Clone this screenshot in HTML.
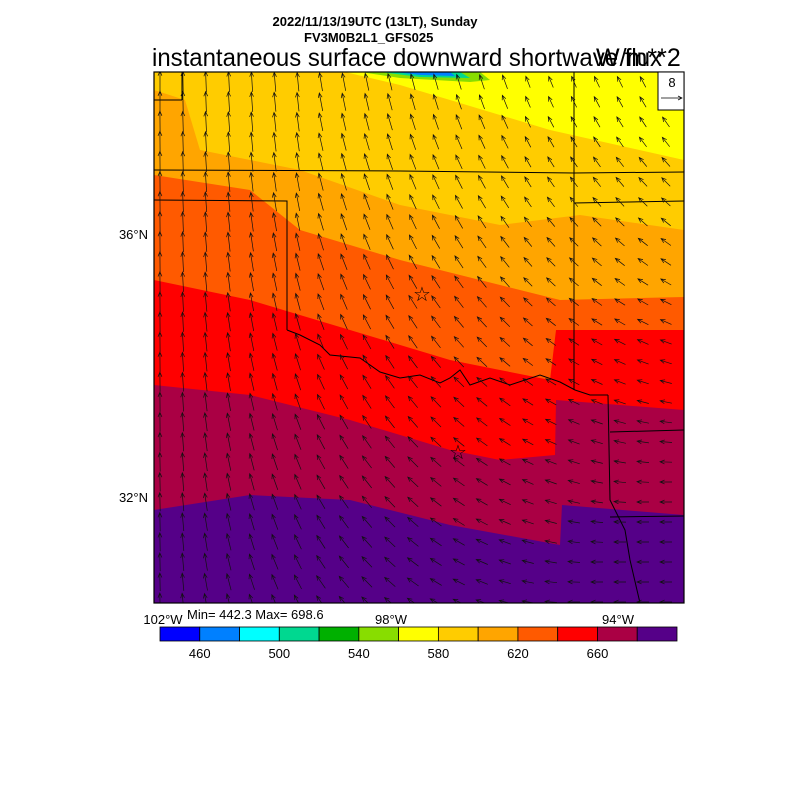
<!DOCTYPE html>
<html><head><meta charset="utf-8"><style>
body{margin:0;background:#fff;width:800px;height:800px;overflow:hidden}
svg{position:absolute;left:0;top:0}
text{font-family:"Liberation Sans",sans-serif}
</style></head><body>
<svg id="s" width="800" height="800" xmlns="http://www.w3.org/2000/svg">
<text x="375" y="26" font-size="13" font-weight="bold" text-anchor="middle">2022/11/13/19UTC (13LT), Sunday</text>
<text x="304" y="42" font-size="13" font-weight="bold">FV3M0B2L1_GFS025</text>
<text x="152" y="66" font-size="25" textLength="510" lengthAdjust="spacingAndGlyphs">instantaneous surface downward shortwave flux</text>
<text x="596" y="66" font-size="25">W/m**2</text>
<defs><clipPath id="c"><rect x="154" y="72" width="530" height="531"/></clipPath></defs>
<g clip-path="url(#c)">
<rect x="154" y="72" width="530" height="531" fill="#550088"/>
<polygon fill="#aa0044" points="154,72 684,72 684,515 562,505 560,545 450,525 350,500 250,495 154,510"/>
<polygon fill="#ff0000" points="154,72 684,72 684,410 556,400 555,455 500,460 450,450 350,420 250,395 154,385"/>
<polygon fill="#ff5a00" points="154,72 684,72 684,330 556,330 550,380 500,370 450,360 350,330 250,300 154,280"/>
<polygon fill="#ffa500" points="154,72 684,72 684,297 560,300 500,285 400,260 300,230 250,190 154,175"/>
<polygon fill="#ffcc00" points="185,72 684,72 684,230 580,215 500,225 400,205 300,170 200,150 185,100 154,90 154,72"/>
<polygon fill="#ffff00" points="345,72 684,72 684,160 550,130 450,100 400,85"/>
<polygon fill="#88dd00" points="360,72 480,72 490,80 470,82 400,78"/>
<polygon fill="#00d890" points="380,72 460,72 470,78 420,77"/>
<polygon fill="#0080ff" points="395,72 450,72 455,76 420,75"/>
<g fill="none" stroke="#000" stroke-width="1">
<line x1="182" y1="72" x2="182" y2="100"/>
<line x1="154" y1="100" x2="182" y2="100"/>
<polyline points="154,170 400,171 574,173 684,172"/>
<polyline points="154,200 287,201 287,330"/>
<line x1="574" y1="72" x2="574" y2="390"/>
<line x1="574" y1="203" x2="684" y2="201"/>
<polyline points="287,330 300,335 320,345 330,355 360,358 380,372 400,378 420,375 440,383 450,378 460,370 470,385 490,378 510,385 540,375 560,382 575,390 590,395 608,395"/>
<polyline points="608,395 610,500 625,530 630,560 640,603"/>
<line x1="610" y1="432" x2="684" y2="430"/>
<line x1="610" y1="517" x2="684" y2="516"/>
</g>
<g id="arr" stroke="#111" stroke-width="0.7" fill="none"></g>
</g>
<rect x="154" y="72" width="530" height="531" fill="none" stroke="#000" stroke-width="1.2"/>
<text x="422" y="301" font-size="20" text-anchor="middle">☆</text>
<text x="458" y="459" font-size="20" text-anchor="middle">☆</text>
<rect x="658" y="72" width="26" height="38" fill="#fff" stroke="#000"/>
<text x="672" y="87" font-size="13" text-anchor="middle">8</text>
<line x1="661" y1="98" x2="682" y2="98" stroke="#000" stroke-width="0.7"/>
<polyline points="678,96 682,98 678,100" fill="none" stroke="#000" stroke-width="0.7"/>
<text x="148" y="239" font-size="13" text-anchor="end">36°N</text>
<text x="148" y="502" font-size="13" text-anchor="end">32°N</text>
<text x="163" y="624" font-size="13" text-anchor="middle">102°W</text>
<text x="391" y="624" font-size="13" text-anchor="middle">98°W</text>
<text x="618" y="624" font-size="13" text-anchor="middle">94°W</text>
<text x="187" y="619" font-size="13">Min= 442.3 Max= 698.6</text>
<g id="cb" stroke="#000" stroke-width="0.8"></g>
</svg>
<script>
var cols=["#0000ff","#0080ff","#00ffff","#00d890","#00b000","#88dd00","#ffff00","#ffcc00","#ffa500","#ff5a00","#ff0000","#aa0044","#550088"];
var cb=document.getElementById("cb"),ns="http://www.w3.org/2000/svg",w=517/13;
cols.forEach(function(c,i){var r=document.createElementNS(ns,"rect");r.setAttribute("x",160+i*w);r.setAttribute("y",627);r.setAttribute("width",w);r.setAttribute("height",14);r.setAttribute("fill",c);cb.appendChild(r);});
var labs=["460","500","540","580","620","660"];
labs.forEach(function(l,i){var t=document.createElementNS(ns,"text");t.setAttribute("x",160+w*(1+2*i));t.setAttribute("y",658);t.setAttribute("font-size","13");t.setAttribute("text-anchor","middle");t.setAttribute("stroke","none");t.textContent=l;document.getElementById("s").appendChild(t);});
var g=document.getElementById("arr"),h="";
for(var y=82;y<603;y+=20){for(var x=160;x<684;x+=23){
 var fx=(x-154)/530,fy=(y-72)/531;
 var ang=-90-(fx*95)*(0.3+fy*0.9)+ (fx<0.3?fx*10:0);
 if(ang<-180)ang=-180;
 var L=(1-fx*0.5)*(22-fy*4);if(fx>0.7)L=12;
 var a=ang*Math.PI/180,dx=Math.cos(a)*L,dy=Math.sin(a)*L;
 var x0=x-dx/2,y0=y-dy/2,x1=x+dx/2,y1=y+dy/2;
 var h1=a+Math.PI-0.4,h2=a+Math.PI+0.4;
 h+='<path d="M'+x0.toFixed(1)+' '+y0.toFixed(1)+'L'+x1.toFixed(1)+' '+y1.toFixed(1)+'M'+(x1+5*Math.cos(h1)).toFixed(1)+' '+(y1+5*Math.sin(h1)).toFixed(1)+'L'+x1.toFixed(1)+' '+y1.toFixed(1)+'L'+(x1+5*Math.cos(h2)).toFixed(1)+' '+(y1+5*Math.sin(h2)).toFixed(1)+'"/>';
}}
g.innerHTML=h;
</script>
</body></html>
